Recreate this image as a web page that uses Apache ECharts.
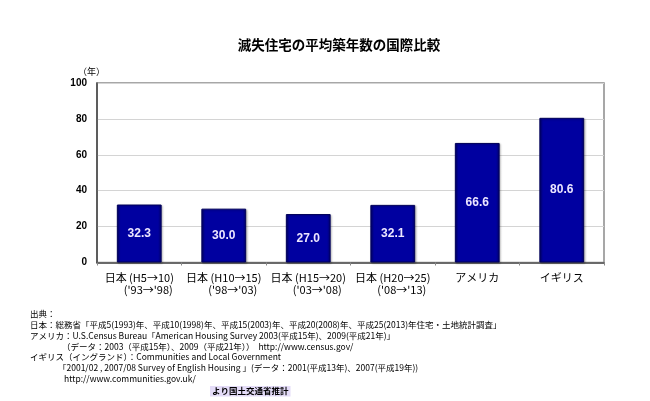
<!DOCTYPE html>
<html>
<head>
<meta charset="utf-8">
<script src="https://cdn.jsdelivr.net/npm/echarts@6/dist/echarts.min.js"></script>
<style>
html,body{margin:0;padding:0;background:#fff;}
#c{width:650px;height:401px;}
</style>
</head>
<body>
<div id="c"></div>
<script>
var title = '滅失住宅の平均築年数の国際比較';
var categories = ['日本 (H5→10)\n(\'93→\'98)', '日本 (H10→15)\n(\'98→\'03)', '日本 (H15→20)\n(\'03→\'08)', '日本 (H20→25)\n(\'08→\'13)', 'アメリカ', 'イギリス'];
var values = [32.3, 30.0, 27.0, 32.1, 66.6, 80.6];
var yTicks = [0, 20, 40, 60, 80, 100];
var unitLabel = '（年）';
var notes = [
  '出典：',
  '日本：総務省「平成5(1993)年、平成10(1998)年、平成15(2003)年、平成20(2008)年、平成25(2013)年住宅・土地統計調査」',
  'アメリカ：U.S.Census Bureau「American Housing Survey 2003(平成15年)、2009(平成21年)」',
  '（データ：2003（平成15年）、2009（平成21年））  http://www.census.gov/',
  'イギリス（イングランド）：Communities and Local Government',
  '「2001/02 , 2007/08 Survey of English Housing 」(データ：2001(平成13年)、2007(平成19年))',
  'http://www.communities.gov.uk/'
];
var credit = 'より国土交通省推計';

var chart = echarts.init(document.getElementById('c'));
var jp = '"Noto Sans CJK JP", "Liberation Sans", sans-serif';
var noteX = [30, 30, 30, 62, 30, 58, 64];
var noteY = [316, 327, 338, 349, 359, 370, 381];
var graphics = [
  {type:'text', x:339, y:45, style:{text:title, font:'bold 13.5px ' + jp, fill:'#000', textAlign:'center', textVerticalAlign:'middle'}},
  {type:'text', left:78, top:67, style:{text:unitLabel, font:'9px ' + jp, fill:'#000'}}
];
notes.forEach(function(t, i){
  graphics.push({type:'text', left:noteX[i], top:noteY[i]-6, style:{text:t, font:'8.5px ' + jp, fill:'#000'}});
});
graphics.push({type:'text', left:210, top:386, style:{text:credit, font:'bold 8.5px ' + jp, fill:'#000', backgroundColor:'#e4dcf8', padding:[1,2]}});

chart.setOption({
  animation:false,
  backgroundColor:'#fff',
  graphic: graphics,
  grid:{left:97, right:46, top:83, bottom:138.5, show:true, borderColor:'#8a8a8a', borderWidth:1.5},
  xAxis:{
    type:'category', data:categories,
    axisLine:{lineStyle:{color:'#444', width:1.5}},
    axisTick:{show:true, length:3, lineStyle:{color:'#888'}},
    axisLabel:{
      interval:0, color:'#000', margin:9, lineHeight:12,
      formatter:function(v){
        var p = v.split('\n');
        if (p.length === 1) return '{a|' + p[0] + '}';
        return '{a|' + p[0] + '}\n{b|' + p[1] + '}';
      },
      rich:{
        a:{fontSize:11, fontFamily:jp, color:'#000', lineHeight:12},
        b:{fontSize:11, fontFamily:jp, color:'#000', lineHeight:12, padding:[0,0,0,18]}
      }
    }
  },
  yAxis:{
    type:'value', min:yTicks[0], max:yTicks[yTicks.length-1], interval:20,
    axisLine:{show:true, lineStyle:{color:'#444', width:1.5}},
    axisTick:{show:false},
    axisLabel:{color:'#000', fontSize:10, fontFamily:'"Liberation Sans", Arial, sans-serif', fontWeight:'bold', margin:10},
    splitLine:{lineStyle:{color:'#d4d4d4', width:1}}
  },
  series:[{
    type:'bar', data:values, barWidth:'53%',
    itemStyle:{
      color:new echarts.graphic.LinearGradient(0,0,1,0,[
        {offset:0, color:'#00006a'},
        {offset:0.08, color:'#0000a0'},
        {offset:0.92, color:'#0000a0'},
        {offset:1, color:'#00006a'}
      ]),
      borderColor:'#00005a', borderWidth:1,
      shadowColor:'rgba(0,0,0,0.25)', shadowBlur:2, shadowOffsetX:1, shadowOffsetY:1
    },
    label:{
      show:true, position:'inside', color:'#ece6ff', fontWeight:'bold', fontSize:12,
      fontFamily:'"Liberation Sans", Arial, sans-serif',
      formatter:function(p){ return p.value.toFixed(1); }
    }
  }]
});
</script>
</body>
</html>
